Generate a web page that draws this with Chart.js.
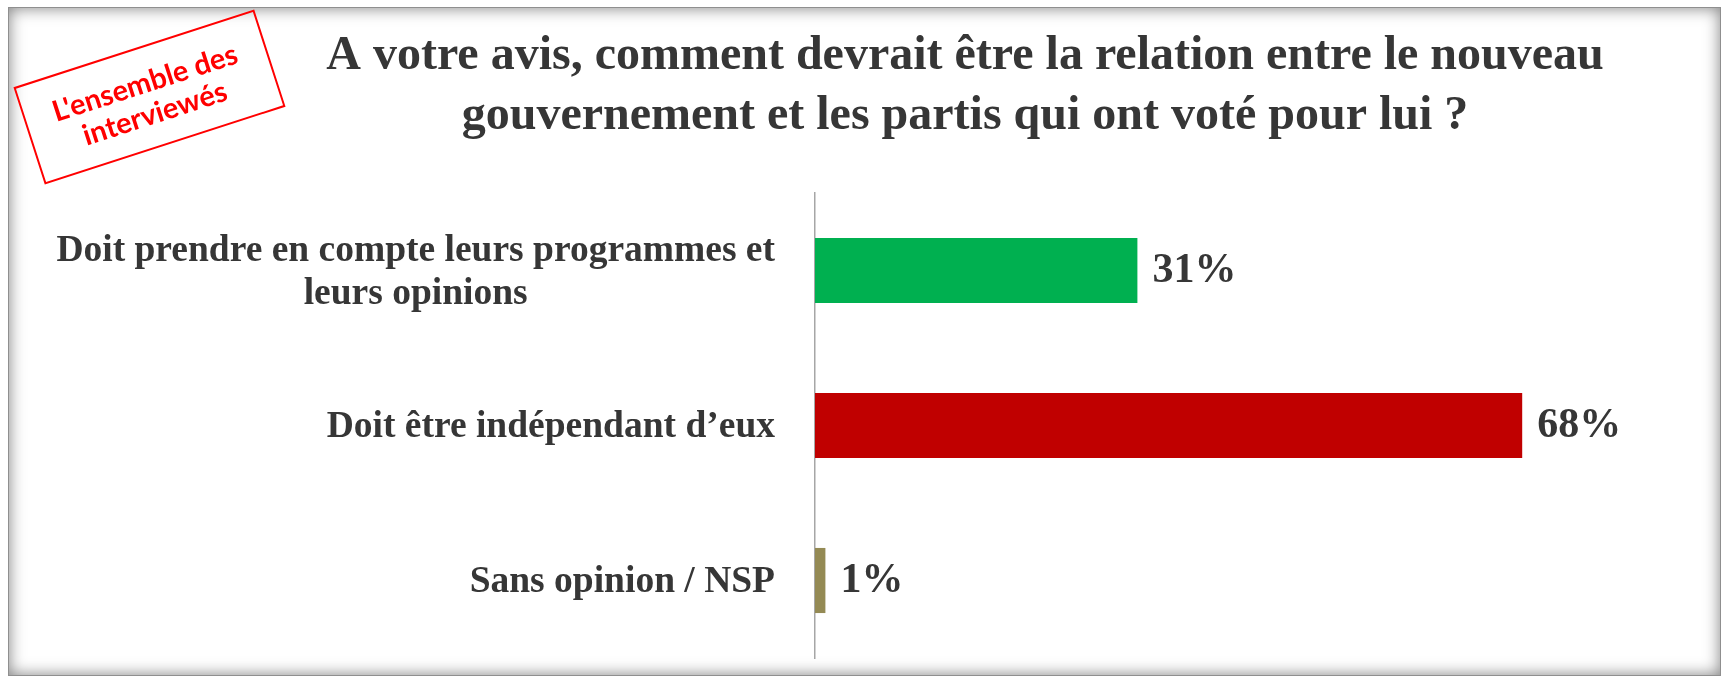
<!DOCTYPE html>
<html lang="fr">
<head>
<meta charset="utf-8">
<title>Relation entre le nouveau gouvernement et les partis</title>
<script src="https://cdn.jsdelivr.net/npm/chart.js@4/dist/chart.umd.min.js"></script>
<style>
    html, body { margin: 0; padding: 0; background: #fff; }
    #wrap { position: relative; width: 1728px; height: 679px; overflow: hidden; }
    #chart { position: absolute; left: 0; top: 0; }
    #frame {
        position: absolute; left: 8px; top: 7px; width: 1713px; height: 669px;
        border: 1px solid #8f8f8f;
        box-shadow: inset 0 0 16px rgba(0, 0, 0, 0.5);
        pointer-events: none; box-sizing: border-box;
    }
    #stamp {
        position: absolute; left: 23px; top: 46px; width: 253px; height: 102px;
        border: 2px solid #ff0000; box-sizing: border-box;
        transform: rotate(-17.9deg);
        color: #ff0000; font-family: Lato, "Open Sans", sans-serif; font-weight: bold;
        font-size: 29px; line-height: 32px; text-align: center;
        display: flex; align-items: center; justify-content: center;
    }
</style>
</head>
<body>
<div id="wrap">
    <canvas id="chart" width="1728" height="679"></canvas>
    <div id="frame"></div>
    <div id="stamp">L'ensemble des<br>interviewés</div>
</div>
<script>
// Data
const categories = [
    ["Doit prendre en compte leurs programmes et", "leurs opinions"],
    ["Doit être indépendant d\u2019eux"],
    ["Sans opinion / NSP"]
];
const values = [31, 68, 1];
const valueLabels = ["31%", "68%", "1%"];
const barColors = ["#00b050", "#c00000", "#948a54"];
const titleLines = [
    "A votre avis, comment devrait être la relation entre le nouveau",
    "gouvernement et les partis qui ont voté pour lui ?"
];

const textColor = "#363636";
const serif = "'Liberation Serif', 'Times New Roman', serif";

// Category labels, right-aligned block, lines centered inside the block
const categoryLabels = {
    id: "categoryLabels",
    afterDraw(chart) {
        const ctx = chart.ctx;
        const yScale = chart.scales.y;
        const rightEdge = chart.chartArea.left - 40;
        const lineH = 43;
        ctx.save();
        ctx.font = "bold 37.5px " + serif;
        ctx.fillStyle = textColor;
        ctx.textAlign = "center";
        ctx.textBaseline = "middle";
        categories.forEach((lines, i) => {
            const y = yScale.getPixelForValue(i) + 2;
            const blockW = Math.max(...lines.map(l => ctx.measureText(l).width));
            const cx = rightEdge - blockW / 2;
            const top = y - (lines.length - 1) * lineH / 2;
            lines.forEach((l, j) => ctx.fillText(l, cx, top + j * lineH));
        });
        ctx.restore();
    }
};

// Value labels after the end of each bar
const valueLabelsPlugin = {
    id: "valueLabels",
    afterDatasetsDraw(chart) {
        const ctx = chart.ctx;
        const meta = chart.getDatasetMeta(0);
        ctx.save();
        ctx.font = "bold 42px " + serif;
        ctx.fillStyle = textColor;
        ctx.textAlign = "left";
        ctx.textBaseline = "middle";
        meta.data.forEach((bar, i) => {
            ctx.fillText(valueLabels[i], bar.x + 15, bar.y + 1);
        });
        ctx.restore();
    }
};

const ctx = document.getElementById("chart").getContext("2d");
new Chart(ctx, {
    type: "bar",
    data: {
        labels: categories.map(c => c.join(" ")),
        datasets: [{
            data: values,
            backgroundColor: barColors,
            borderWidth: 0,
            barPercentage: 0.42,
            categoryPercentage: 1
        }]
    },
    options: {
        indexAxis: "y",
        responsive: false,
        animation: false,
        layout: { padding: { top: 0, left: 231, right: 29, bottom: 21 } },
        scales: {
            x: { display: false, min: 0, max: 85 },
            y: {
                afterFit: s => { s.width = 584; },
                ticks: { display: false },
                grid: { display: false },
                border: { display: true, color: "#a6a6a6", width: 1.5 }
            }
        },
        plugins: {
            legend: { display: false },
            tooltip: { enabled: false },
            title: {
                display: true,
                text: titleLines,
                color: textColor,
                font: { family: serif, size: 48, weight: "bold", lineHeight: 1.25 },
                padding: { top: 27, bottom: 46 }
            }
        }
    },
    plugins: [categoryLabels, valueLabelsPlugin]
});
</script>
</body>
</html>
